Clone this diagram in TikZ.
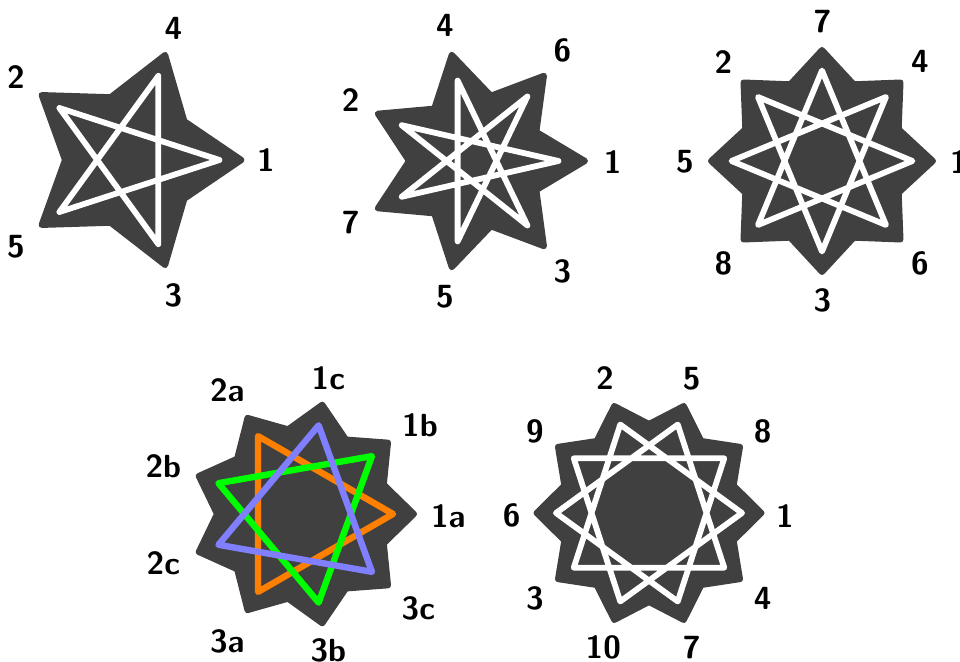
\documentclass[tikz,border=0pt]{standalone}
\definecolor{stardark}{HTML}{404040}
\definecolor{orangec}{HTML}{FF8000}
\definecolor{greenc}{HTML}{00FF00}
\definecolor{bluec}{HTML}{8080FF}
\tikzset{
  darkstar/.style={fill=stardark, draw=stardark, line width=3pt, line join=round},
  whiteline/.style={draw=white, line width=2.9pt, line join=round},
  orangeline/.style={draw=orangec, line width=3.2pt, line join=round},
  greenline/.style={draw=greenc, line width=3.2pt, line join=round},
  blueline/.style={draw=bluec, line width=3.2pt, line join=round},
  lbl/.style={font=\fontsize{16}{19}\selectfont\sffamily\bfseries, inner sep=0pt, text=black}
}
% n, R, r
\newcommand{\darkstarshape}[3]{%
  \path[darkstar] (0:#2) \foreach \i in {1,...,#1} { -- ({(\i-0.5)*360/#1}:#3) -- ({\i*360/#1}:#2) } -- cycle;}
% style, count, step angle, radius, offset
\newcommand{\starpoly}[5]{%
  \draw[#1] (#5:#4) \foreach \i in {1,...,#2} { -- ({#5+\i*#3}:#4) } -- cycle;}
\begin{document}
\begin{tikzpicture}[x=0.5pt, y=0.5pt]
\useasboundingbox (0,0) rectangle (960,-662);

% ---- star 1: {5/2}
\coordinate (c1) at (131,-160);
\begin{scope}[shift={(c1)}]
  \darkstarshape{5}{110.5}{66}
  \starpoly{whiteline}{5}{144}{88.5}{0}
\end{scope}
\node[lbl] (s1l1) at (266,-160.5) {1};
\node[lbl] (s1l2) at (16,-77.3) {2};
\node[lbl] (s1l3) at (173.3,-295) {3};
\node[lbl] (s1l4) at (173.3,-28.3) {4};
\node[lbl] (s1l5) at (16,-246.7) {5};

% ---- star 2: {7/3}
\coordinate (c2) at (476,-161);
\begin{scope}[shift={(c2)}]
  \darkstarshape{7}{109}{67}
  \starpoly{whiteline}{7}{154.2857}{82.5}{0}
\end{scope}
\node[lbl] (s2l1) at (612.7,-161.7) {1};
\node[lbl] (s2l2) at (350.7,-100) {2};
\node[lbl] (s2l3) at (562.3,-271.7) {3};
\node[lbl] (s2l4) at (445,-25) {4};
\node[lbl] (s2l5) at (445,-296.7) {5};
\node[lbl] (s2l6) at (562.3,-50) {6};
\node[lbl] (s2l7) at (350.7,-222.7) {7};

% ---- star 3: {8/3}
\coordinate (c3) at (822,-161);
\begin{scope}[shift={(c3)}]
  \darkstarshape{8}{111}{83}
  \starpoly{whiteline}{8}{135}{90.5}{0}
\end{scope}
\node[lbl] (s3l1) at (959,-161.7) {1};
\node[lbl] (s3l2) at (723.3,-61.7) {2};
\node[lbl] (s3l3) at (822.3,-300) {3};
\node[lbl] (s3l4) at (920,-61.7) {4};
\node[lbl] (s3l5) at (685,-161.7) {5};
\node[lbl] (s3l6) at (920,-263.3) {6};
\node[lbl] (s3l7) at (822.3,-21.7) {7};
\node[lbl] (s3l8) at (723.3,-263.3) {8};

% ---- star 4: {9/3}
\coordinate (c4) at (303,-514);
\begin{scope}[shift={(c4)}]
  \darkstarshape{9}{111}{86}
  \starpoly{orangeline}{3}{120}{90}{0}
  \starpoly{greenline}{3}{120}{90}{40}
  \starpoly{blueline}{3}{120}{90}{80}
\end{scope}
\node[lbl] (s4l1a) at (448.3,-516.7) {1a};
\node[lbl] (s4l1b) at (420,-425) {1b};
\node[lbl] (s4l1c) at (328.3,-378.3) {1c};
\node[lbl] (s4l2a) at (227.3,-390) {2a};
\node[lbl] (s4l2b) at (163.3,-466.7) {2b};
\node[lbl] (s4l2c) at (163.3,-563.3) {2c};
\node[lbl] (s4l3a) at (227.3,-641.7) {3a};
\node[lbl] (s4l3b) at (328.3,-650) {3b};
\node[lbl] (s4l3c) at (418.3,-608.3) {3c};

% ---- star 5: {10/3}
\coordinate (c5) at (649,-513);
\begin{scope}[shift={(c5)}]
  \darkstarshape{10}{112.5}{89}
  \starpoly{whiteline}{10}{108}{93}{0}
\end{scope}
\node[lbl] (s5l1) at (785,-515.7) {1};
\node[lbl] (s5l2) at (605,-378.3) {2};
\node[lbl] (s5l3) at (535,-598.3) {3};
\node[lbl] (s5l4) at (762.7,-598.3) {4};
\node[lbl] (s5l5) at (691.7,-378.3) {5};
\node[lbl] (s5l6) at (511.7,-515) {6};
\node[lbl] (s5l7) at (691.7,-647.5) {7};
\node[lbl] (s5l8) at (762.7,-431.7) {8};
\node[lbl] (s5l9) at (535,-431.7) {9};
\node[lbl] (s5l10) at (603.3,-647.5) {10};
\end{tikzpicture}
\end{document}
